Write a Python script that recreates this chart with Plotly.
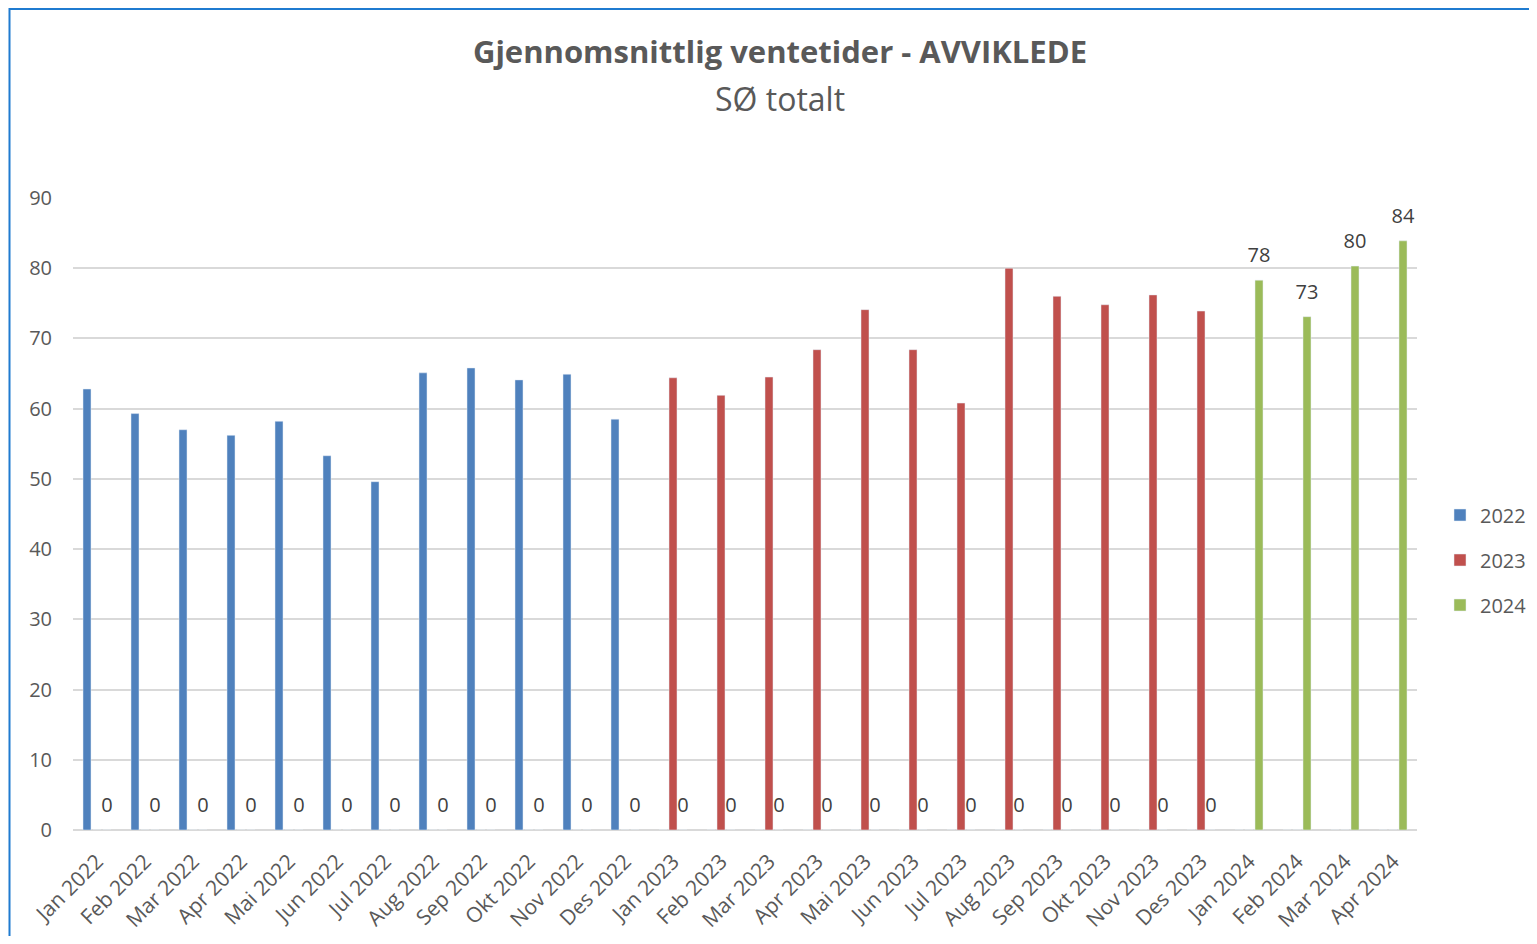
"""Average waiting times (AVVIKLEDE), SØ totalt - grouped bars per year."""
import plotly.graph_objects as go

months = [
    "Jan 2022", "Feb 2022", "Mar 2022", "Apr 2022", "Mai 2022", "Jun 2022",
    "Jul 2022", "Aug 2022", "Sep 2022", "Okt 2022", "Nov 2022", "Des 2022",
    "Jan 2023", "Feb 2023", "Mar 2023", "Apr 2023", "Mai 2023", "Jun 2023",
    "Jul 2023", "Aug 2023", "Sep 2023", "Okt 2023", "Nov 2023", "Des 2023",
    "Jan 2024", "Feb 2024", "Mar 2024", "Apr 2024",
]

# each year is its own series; months outside the year are 0 in the source sheet
vals_2022 = [62.8, 59.3, 57.0, 56.2, 58.2, 53.3, 49.6, 65.1, 65.8, 64.1, 64.9, 58.5] + [0] * 16
vals_2023 = [0] * 12 + [64.4, 61.9, 64.5, 68.4, 74.1, 68.4, 60.8, 80.0, 76.0, 74.8, 76.2, 73.9] + [0] * 4
vals_2024 = [0] * 24 + [78.3, 73.1, 80.3, 83.9]

FONT = "Open Sans"
TXT = "#595959"

# page body has an 8px margin, so the figure is a bit smaller than the window
W, H = 1521, 928
L, R, T, B = 65, 112, 190, 106
PW, PH = W - L - R, H - T - B
BARGAP = 0.375
SLOT = (1 - BARGAP) / 3  # width of one bar slot, in categories


def px_x(x):
    return (x - L) / PW


def px_y(y):
    return (H - B - y) / PH


fig = go.Figure()
fig.add_trace(go.Bar(x=months, y=vals_2022, name="2022", marker_color="#4F81BD",
                     legendgroup="a"))
fig.add_trace(go.Bar(x=months, y=vals_2023, name="2023", marker_color="#C0504D",
                     legendgroup="b"))
fig.add_trace(go.Bar(x=months, y=vals_2024, name="2024", marker_color="#9BBB59",
                     legendgroup="c"))
# data labels for the 2024 series, on a hidden axis shifted onto the green slot
# (invisible markers only there to push the text up off the bar end)
fig.add_trace(go.Scatter(x=months, y=vals_2024, xaxis="x2", mode="markers+text",
                         marker=dict(size=19, opacity=0),
                         texttemplate="%{y:.0f}", textposition="top center",
                         textfont=dict(size=20, color="#404040", family=FONT),
                         cliponaxis=False, showlegend=False, hoverinfo="skip"))

fig.update_layout(
    width=W, height=H,
    margin=dict(l=L, r=R, t=T, b=B, autoexpand=False),
    plot_bgcolor="white", paper_bgcolor="white",
    font=dict(family=FONT, color=TXT, size=18),
    barmode="group", bargap=BARGAP, bargroupgap=0.2,
    title=dict(
        text="<b>Gjennomsnittlig ventetider - AVVIKLEDE</b>",
        x=772 / W, xanchor="center", xref="container",
        y=1 - 44 / H, yanchor="middle",
        font=dict(size=31, color=TXT, family=FONT),
    ),
    legend=dict(x=px_x(1432), y=px_y(552),
                xanchor="left", yanchor="middle", tracegroupgap=16,
                font=dict(size=20, color=TXT), itemwidth=30),
    showlegend=True,
    xaxis=dict(tickangle=-45, tickfont=dict(size=21, color=TXT), showline=False,
               ticks="", ticklabelstandoff=14, automargin=False,
               range=[-0.5, len(months) - 0.5]),
    xaxis2=dict(overlaying="x", visible=False, type="category",
                categoryarray=months, categoryorder="array",
                range=[-0.5 - SLOT, len(months) - 0.5 - SLOT]),
    yaxis=dict(range=[0, 90], dtick=10, showgrid=True, gridcolor="#D9D9D9",
               gridwidth=1.5, zeroline=True, zerolinecolor="#D9D9D9",
               zerolinewidth=2, tickfont=dict(size=20, color=TXT), ticks="",
               ticklabelstandoff=20, automargin=False),
)
fig.add_annotation(text="SØ totalt", xref="paper", yref="paper",
                   x=px_x(772), y=px_y(90), xanchor="center", yanchor="middle",
                   showarrow=False, font=dict(size=32, color=TXT, family=FONT))

# blue frame around the chart area
fig.add_shape(type="rect", xref="paper", yref="paper",
              x0=px_x(1.5), x1=px_x(W + 20), y0=px_y(H + 20), y1=px_y(1),
              line=dict(color="#1F7BD0", width=2), layer="below")

fig.write_html("out.html")
